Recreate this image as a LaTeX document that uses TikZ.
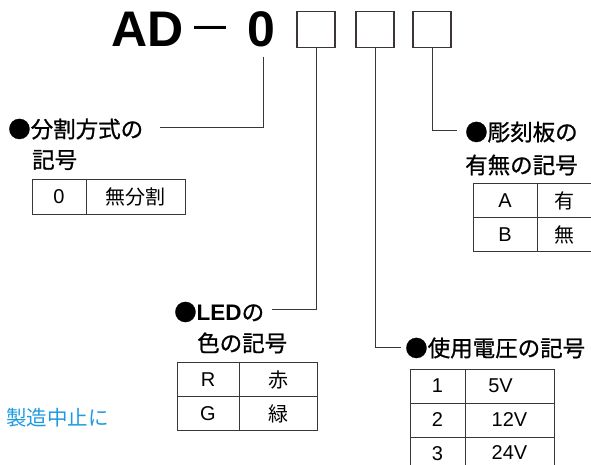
\documentclass[tikz,border=0pt]{standalone}
\usepackage{fontspec}
\setmainfont{Liberation Sans}
\newfontfamily\jp{Noto Sans CJK JP}
\newfontfamily\jph{Noto Sans CJK JP}[FakeBold=0.9]
\definecolor{linec}{HTML}{3C3535}
\definecolor{bluetxt}{HTML}{1E9BE0}
\begin{document}
\begin{tikzpicture}[x=1pt,y=-1pt,
  lbl/.style={inner sep=0pt, anchor=west},
  hd/.style={lbl, font=\jph\fontsize{22.5}{22.5}\selectfont},
  cell/.style={draw=linec, line width=1pt, inner sep=0pt, minimum height=34pt, font=\fontsize{20}{20}\selectfont},
  tbox/.style={draw=linec, line width=1.3pt, minimum width=38pt, minimum height=36pt, inner sep=0pt},
  conn/.style={draw=linec, line width=1pt},
  big/.style={anchor=base west, inner sep=0pt, font=\bfseries\fontsize{50}{50}\selectfont}]
\useasboundingbox (0,0) rectangle (591,465);
% title
\node[big] (ad) at (111,47) {AD};
\node[inner sep=0pt, font=\jp\fontsize{44}{44}\selectfont] (dash) at (210,35) {－};
\node[big] (zero) at (247,47) {0};
\node[tbox] (box1) at (316,29.5) {};
\node[tbox] (box2) at (375,29.5) {};
\node[tbox] (box3) at (432,29.5) {};
% headings
\node[hd] (h1) at (8,129) {●分割方式の};
\node[hd] (h1b) at (32,160) {記号};
\node[hd] (h2) at (465,132) {●彫刻板の};
\node[hd] (h2b) at (465,165) {有無の記号};
\node[hd] (h3) at (174,312) {●{\rmfamily\bfseries LED}の};
\node[hd] (h3b) at (197,343) {色の記号};
\node[hd] (h4) at (405,348) {●使用電圧の記号};
% connectors
\coordinate (z0) at (263,57);
\coordinate (e1) at (160,128);
\coordinate (e2) at (272,309);
\coordinate (e3) at (401,347);
\coordinate (e4) at (457,131);
\draw[conn] (z0) |- (e1);
\draw[conn] (box1.south) |- (e2);
\draw[conn] (box2.south) |- (e3);
\draw[conn] (box3.south) |- (e4);
% table 1
\node[cell, minimum width=54pt] (t1k) at (59,197) {0};
\node[cell, minimum width=99pt] (t1v) at (135.5,197) {\jp 無分割};
% table 2
\node[cell, minimum width=64pt] (t2ka) at (505,200.5) {A};
\node[cell, minimum width=55pt] (t2va) at (564.5,200.5) {\jp 有};
\node[cell, minimum width=64pt] (t2kb) at (505,234.5) {B};
\node[cell, minimum width=55pt] (t2vb) at (564.5,234.5) {\jp 無};
% table 3
\node[cell, minimum width=62pt] (t3ka) at (208,379.5) {R};
\node[cell, minimum width=78pt] (t3va) at (278,379.5) {\jp 赤};
\node[cell, minimum width=62pt] (t3kb) at (208,413.5) {G};
\node[cell, minimum width=78pt] (t3vb) at (278,413.5) {\jp 緑};
% table 4
\node[cell, minimum width=55pt] (t4ka) at (437.5,386) {\raisebox{-5pt}{1}};
\node[cell, minimum width=89pt] (t4va) at (509.5,386) {\hspace*{-18pt}5V};
\node[cell, minimum width=55pt] (t4kb) at (437.5,420) {\raisebox{-3pt}{2}};
\node[cell, minimum width=89pt] (t4vb) at (509.5,420) {12V};
\node[cell, minimum width=55pt] (t4kc) at (437.5,454) {\raisebox{-3pt}{3}};
\node[cell, minimum width=89pt] (t4vc) at (509.5,454) {\raisebox{3pt}{24V}};
% note
\node[lbl, text=bluetxt, font=\jp\fontsize{20.5}{20.5}\selectfont] (note) at (6,418) {製造中止に};
\end{tikzpicture}
\end{document}
